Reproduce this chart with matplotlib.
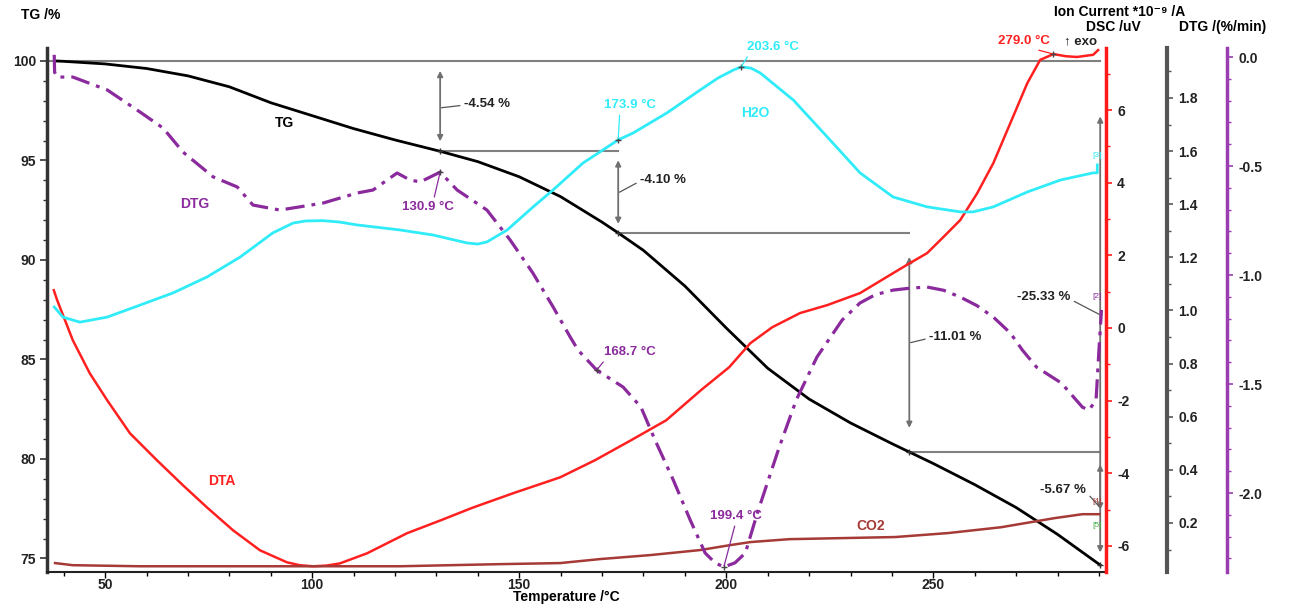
import numpy as np
import matplotlib.pyplot as plt
from matplotlib.ticker import MultipleLocator, FormatStrFormatter

plt.rcParams['font.family'] = ['Liberation Sans', 'DejaVu Sans']
plt.rcParams['axes.unicode_minus'] = False

#--- TG (mass, %)
T_tg = [37.9, 40, 50, 60, 70, 80, 90, 100, 110, 120, 130.9, 140, 150, 160, 170,
        173.9, 180, 190, 200, 210, 220, 230, 240, 244.2, 250, 260, 270, 280, 290.3]
tg = [100.0, 99.98, 99.85, 99.62, 99.25, 98.7, 97.9, 97.25, 96.6, 96.03, 95.46,
      94.94, 94.18, 93.18, 91.9, 91.36, 90.48, 88.69, 86.58, 84.56, 83.01, 81.81,
      80.77, 80.35, 79.77, 78.71, 77.56, 76.21, 74.67]

#--- DTG (%/min)
T_dtg = [37.7, 37.8, 38.4, 42.2, 50.5, 58.4, 64.0, 68.8, 76.1, 81.9, 85.7, 92.2,
         102.6, 110.8, 114.7, 120.5, 123.6, 126.1, 130.9, 135.0, 142.2, 147.8,
         153.3, 158.2, 162.3, 164.2, 168.7, 175.1, 179.4, 182.8, 187.2, 191.3,
         194.9, 197.3, 199.4, 202.1, 204.6, 207.5, 212.8, 216.9, 221.9, 228.0,
         232.3, 236.0, 240.3, 244.5, 248.5, 252.5, 256.5, 260.5, 264.5, 268.6,
         271.5, 274.9, 280.9, 286.0, 287.6, 289.3, 290.0, 290.5, 290.6]
dtg = [0.01, -0.07, -0.092, -0.092, -0.151, -0.252, -0.326, -0.436, -0.550,
       -0.596, -0.679, -0.702, -0.670, -0.624, -0.610, -0.532, -0.564, -0.573,
       -0.528, -0.610, -0.702, -0.839, -0.991, -1.147, -1.284, -1.344, -1.436,
       -1.514, -1.606, -1.757, -1.940, -2.124, -2.275, -2.320, -2.339, -2.320,
       -2.275, -2.092, -1.789, -1.573, -1.376, -1.206, -1.128, -1.090, -1.069,
       -1.060, -1.055, -1.070, -1.101, -1.140, -1.193, -1.266, -1.344, -1.422,
       -1.495, -1.606, -1.619, -1.573, -1.344, -1.193, -1.16]

#--- DTA (uV)
T_dta = [37.6, 38.4, 42.2, 46.3, 50.5, 56.0, 62.5, 68.8, 74.6, 80.9, 87.4, 93.9,
         97.0, 100.2, 103.5, 106.7, 113.3, 122.9, 130.9, 138.9, 148.5, 159.9, 168.3,
         177.0, 185.5, 193.9, 200.7, 205.8, 211.1, 217.8, 224.4, 232.3, 240.3, 244.4,
         248.5, 252.4, 256.5, 260.6, 264.5, 268.6, 272.7, 275.8, 279.0, 282.0,
         284.7, 288.6, 289.8]
dta = [1.04, 0.77, -0.34, -1.25, -1.99, -2.90, -3.64, -4.33, -4.94, -5.57, -6.12,
       -6.45, -6.53, -6.56, -6.54, -6.48, -6.20, -5.65, -5.30, -4.94, -4.55, -4.11,
       -3.64, -3.09, -2.54, -1.71, -1.08, -0.42, 0.02, 0.41, 0.63, 0.96, 1.51, 1.79,
       2.06, 2.50, 2.97, 3.71, 4.54, 5.64, 6.74, 7.38, 7.54, 7.48, 7.46, 7.52, 7.65]

#--- MS ion currents (*10^-9 A)
T_h2o = [37.7, 39.8, 43.9, 50.5, 58.4, 66.4, 74.6, 82.6, 90.5, 95.4, 98.5, 102.6,
         106.5, 110.8, 121.2, 129.2, 137.4, 140.0, 142.2, 147.1, 153.3, 158.2, 165.4,
         173.9, 177.5, 185.7, 193.7, 198.0, 201.7, 203.6, 206.0, 208.2, 216.2, 224.4,
         232.3, 240.3, 248.5, 256.5, 259.6, 264.5, 272.7, 280.7, 288.6, 289.6, 289.6]
h2o = [1.013, 0.975, 0.956, 0.975, 1.020, 1.066, 1.126, 1.201, 1.292, 1.329,
       1.337, 1.338, 1.333, 1.322, 1.303, 1.284, 1.254, 1.250, 1.258, 1.303,
       1.389, 1.454, 1.555, 1.642, 1.668, 1.744, 1.830, 1.875, 1.905, 1.917,
       1.912, 1.894, 1.792, 1.653, 1.518, 1.427, 1.390, 1.371, 1.371, 1.390,
       1.446, 1.491, 1.518, 1.518, 1.548]

T_co2 = [37.9, 42.2, 58.4, 97.1, 121.2, 145.4, 159.9, 169.5, 181.6, 193.7, 200.7,
         205.8, 215.2, 228.0, 240.8, 253.6, 266.4, 279.2, 286.0, 290.1]
co2 = [0.049, 0.041, 0.037, 0.037, 0.037, 0.045, 0.049, 0.064, 0.079, 0.098,
       0.116, 0.128, 0.139, 0.143, 0.147, 0.162, 0.184, 0.218, 0.233, 0.233]

#--- evaluation
step_T = [130.9, 173.9, 244.2, 290.3]
step_loss = [-4.54, -4.10, -11.01, -5.67]
total_loss = -25.33
dtg_peaks = [130.9, 168.7, 199.4]
h2o_peaks = [173.9, 203.6]
dta_peak = 279.0

C_TG, C_DTA, C_H2O, C_CO2, C_DTG = 'black', '#ff2020', '#30ecf8', '#a53a36', '#8a2a9c'
GREY = '#808080'

fig = plt.figure(figsize=(12.91, 6.06), dpi=100)
ax = fig.add_axes([47/1291, 34/606, 1059/1291, 524/606])
ax_dsc = ax.twinx()
ax_ion = ax.twinx()
ax_dtg = ax.twinx()
ax_ion.spines['right'].set_position(('outward', 61*0.72))
ax_dtg.spines['right'].set_position(('outward', 121*0.72))

for a in (ax, ax_dsc, ax_ion, ax_dtg):
    a.spines['top'].set_visible(False)
for a in (ax_dsc, ax_ion, ax_dtg):
    a.spines['left'].set_visible(False)
    a.spines['bottom'].set_visible(False)
ax.spines['right'].set_visible(False)
ax.spines['left'].set_color('#333333')
ax.spines['left'].set_linewidth(2.5)
ax.spines['bottom'].set_color('#222222')
ax.spines['bottom'].set_linewidth(1.5)
ax_dsc.spines['right'].set_color('#ff1a1a')
ax_dsc.spines['right'].set_linewidth(2.5)
ax_ion.spines['right'].set_color('#555555')
ax_ion.spines['right'].set_linewidth(3)
ax_dtg.spines['right'].set_color('#9a3db0')
ax_dtg.spines['right'].set_linewidth(2.5)

ax.set_xlim(35.96, 291.7)
ax.set_ylim(74.32, 100.65)
ax_dsc.set_ylim(-6.717, 7.707)
ax_ion.set_ylim(0.0154, 1.988)
ax_dtg.set_ylim(-2.362, 0.0413)

ax.xaxis.set_major_locator(MultipleLocator(50))
ax.xaxis.set_minor_locator(MultipleLocator(10))
ax.yaxis.set_major_locator(MultipleLocator(5))
ax.yaxis.set_minor_locator(MultipleLocator(1))
ax_dsc.yaxis.set_major_locator(MultipleLocator(2))
ax_dsc.yaxis.set_minor_locator(MultipleLocator(1))
ax_ion.yaxis.set_major_locator(MultipleLocator(0.2))
ax_ion.yaxis.set_minor_locator(MultipleLocator(0.1))
ax_ion.yaxis.set_major_formatter(FormatStrFormatter('%.1f'))
ax_dtg.yaxis.set_major_locator(MultipleLocator(0.5))
ax_dtg.yaxis.set_minor_locator(MultipleLocator(0.1))
ax_dtg.yaxis.set_major_formatter(FormatStrFormatter('%.1f'))

tick_font = dict(labelsize=10, labelcolor='#222222')
ax.tick_params(axis='x', which='major', length=4, width=1, pad=0, **tick_font)
ax.tick_params(axis='x', which='minor', length=3, width=1)
ax.tick_params(axis='y', which='major', length=5, width=1.2, pad=3, color='#333333', **tick_font)
ax.tick_params(axis='y', which='minor', length=3, width=1, color='#333333')
for a, c in ((ax_dsc, '#ff1a1a'), (ax_ion, '#555555'), (ax_dtg, '#9a3db0')):
    a.tick_params(axis='y', which='major', length=4, width=1.2, pad=4, color=c, **tick_font)
    a.tick_params(axis='y', which='minor', length=3, width=1, color=c)
for a in (ax, ax_dsc, ax_ion, ax_dtg):
    for lab in a.get_xticklabels() + a.get_yticklabels():
        lab.set_fontweight('bold')

#--- curves
ax.plot(T_tg, tg, color=C_TG, lw=2)
ax_dsc.plot(T_dta, dta, color=C_DTA, lw=1.8)
ax_ion.plot(T_h2o, h2o, color=C_H2O, lw=2)
ax_ion.plot(T_co2, co2, color=C_CO2, lw=1.8)
ax_dtg.plot(T_dtg, dtg, color=C_DTG, lw=2.3, dashes=[6, 2.2, 1.2, 2.2])

#--- mass-loss steps
levels = 100 + np.cumsum(step_loss)
tops = np.concatenate([[100.0], levels[:-1]])
ax.plot([ax.get_xlim()[0], step_T[-1]], [100, 100], color=GREY, lw=1.5, zorder=1)
ax.plot([step_T[0], step_T[1]], [levels[0]] * 2, color=GREY, lw=1.5, zorder=1)
ax.plot([step_T[1], step_T[2]], [levels[1]] * 2, color=GREY, lw=1.5, zorder=1)
ax.plot([step_T[2], step_T[3]], [levels[2]] * 2, color=GREY, lw=1.5, zorder=1)
ax.plot(step_T, levels, '+', color='#333333', ms=5, mew=1)

def double_arrow(x, hi, lo):
    d = hi - lo
    ax.annotate('', xy=(x, lo + 0.11 * d), xytext=(x, hi - 0.11 * d),
                arrowprops=dict(arrowstyle='<|-|>', color='#707070', lw=1.3,
                                mutation_scale=8, shrinkA=0, shrinkB=0))

for x, hi, lo in zip(step_T, tops, levels):
    double_arrow(x, hi, lo)
double_arrow(step_T[-1], 100.0, 100 + total_loss)

def tag(a, text, xy, off, color, ha='left', rel=(0, 0.4), lc=None, size=9.5):
    a.annotate(text, xy=xy, xytext=off, textcoords='offset pixels', ha=ha,
               va='center', color=color, fontsize=size, fontweight='bold',
               arrowprops=dict(arrowstyle='-', color=lc or color, lw=0.9,
                               shrinkA=1, shrinkB=1, relpos=rel))

loss_pos = [(97.64, (24, 4)), (93.37, (22, 13)), (85.83, (20, 6)), (77.55, (-14, 18))]
for x, loss, (yy, off) in zip(step_T, step_loss, loss_pos):
    if off[0] < 0:
        tag(ax, f'{loss:.2f} %', (x, yy), off, '#222222', ha='right', rel=(1, 0.3), lc='#555555')
    else:
        tag(ax, f'{loss:.2f} %', (x, yy), off, '#222222', lc='#555555')
tag(ax, f'{total_loss:.2f} %', (step_T[-1], 87.24), (-30, 18), '#222222',
    ha='right', rel=(1, 0.3), lc='#555555')

#--- peak temperatures
dtg_at = np.interp(dtg_peaks, T_dtg, dtg)
dtg_at[-1] = min(dtg)
h2o_at = np.interp(h2o_peaks, T_h2o, h2o)
dta_at = np.interp(dta_peak, T_dta, dta)
ax_dtg.plot(dtg_peaks, dtg_at, '+', color='#444444', ms=5, mew=1)
ax_ion.plot(h2o_peaks, h2o_at, '+', color='#444444', ms=5, mew=1)
ax_dsc.plot([dta_peak], [dta_at], '+', color='#444444', ms=5, mew=1)

tag(ax_dtg, f'{dtg_peaks[0]} °C', (dtg_peaks[0], dtg_at[0]), (-12, -35), C_DTG, ha='center', rel=(0.6, 1))
tag(ax_dtg, f'{dtg_peaks[1]} °C', (dtg_peaks[1], dtg_at[1]), (33, 18), C_DTG, ha='center', rel=(0.05, 0))
tag(ax_dtg, f'{dtg_peaks[2]} °C', (dtg_peaks[2], dtg_at[2]), (12, 51), C_DTG, ha='center', rel=(0.5, 0))
tag(ax_ion, f'{h2o_peaks[0]} °C', (h2o_peaks[0], h2o_at[0]), (12, 35), C_H2O, ha='center', rel=(0.3, 0))
tag(ax_ion, f'{h2o_peaks[1]} °C', (h2o_peaks[1], h2o_at[1]), (32, 20), C_H2O, ha='center', rel=(0.05, 0))
tag(ax_dsc, f'{dta_peak} °C', (dta_peak, dta_at), (-29, 13), C_DTA, ha='center', rel=(0.55, 0))
ax_dsc.annotate('↑ exo', xy=(dta_peak, dta_at), xytext=(27, 13), textcoords='offset pixels',
                ha='center', va='center', fontsize=9.5, fontweight='bold', color='#222222')

#--- curve names
lbl = dict(fontsize=10, fontweight='bold', ha='center', va='center')
ax.text(93.4, 96.88, 'TG', color=C_TG, **lbl)
ax_dtg.text(71.7, -0.674, 'DTG', color=C_DTG, **lbl)
ax_ion.text(207.0, 1.744, 'H2O', color=C_H2O, **lbl)
ax_dsc.text(78.2, -4.21, 'DTA', color=C_DTA, **lbl)
ax_ion.text(234.8, 0.189, 'CO2', color=C_CO2, **lbl)

small = dict(fontsize=6, ha='center', va='center')
ax_ion.text(289.6, 1.585, '[3]', color=C_H2O, **small)
ax_dtg.text(289.6, -1.10, '[2]', color=C_DTG, **small)
ax_ion.text(289.6, 0.279, '[4]', color=C_CO2, **small)
ax_ion.text(289.6, 0.192, '[5]', color='#3cb043', **small)

#--- axis titles
fig.text(41/1291, 1 - 15/606, 'TG /%', ha='center', va='center', fontsize=10, fontweight='bold')
fig.text(1120/1291, 1 - 12/606, 'Ion Current *10⁻⁹ /A', ha='center', va='center',
         fontsize=10, fontweight='bold')
fig.text(1113/1291, 1 - 27/606, 'DSC /uV', ha='center', va='center', fontsize=10, fontweight='bold')
fig.text(1223/1291, 1 - 27/606, 'DTG /(%/min)', ha='center', va='center', fontsize=10, fontweight='bold')
fig.text(566/1291, 1 - 597/606, 'Temperature /°C', ha='center', va='center', fontsize=10, fontweight='bold')

fig.savefig('out.png', dpi=100)
